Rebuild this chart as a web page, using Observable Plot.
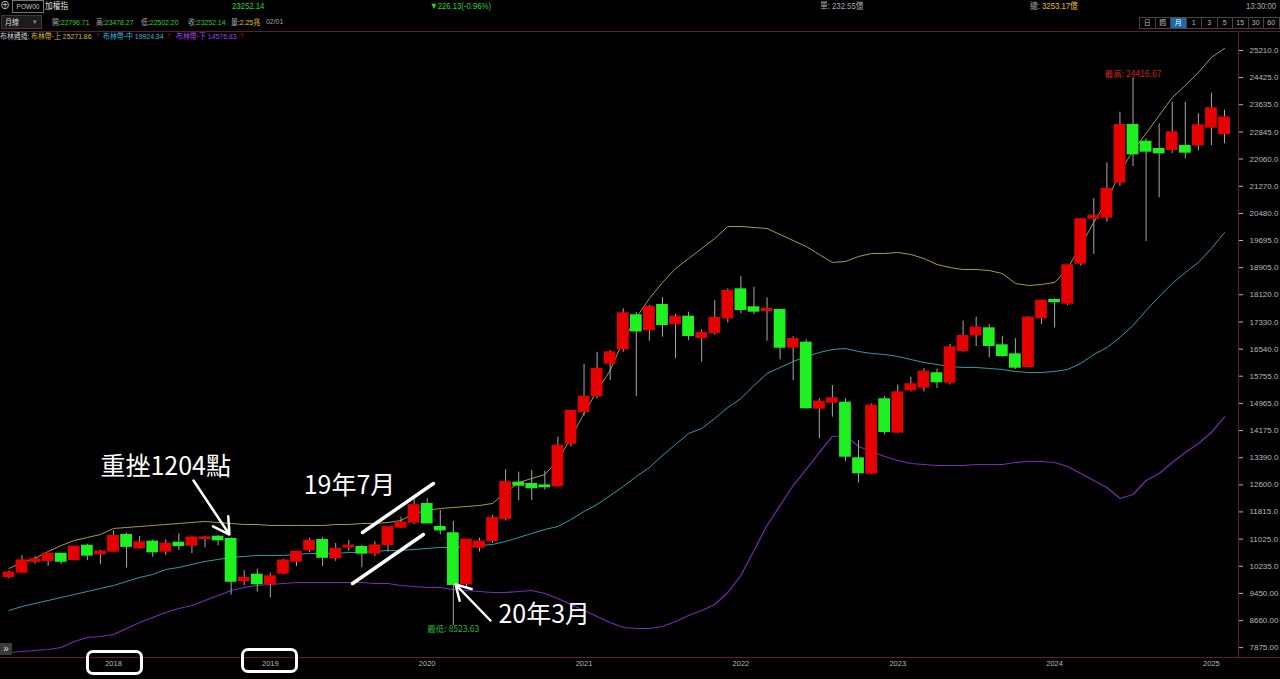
<!DOCTYPE html>
<html><head><meta charset="utf-8">
<script src="https://cdn.jsdelivr.net/npm/d3@7"></script>
<script src="https://cdn.jsdelivr.net/npm/@observablehq/plot@0.6"></script>
<style>
body{margin:0;background:#000;}
#root{position:relative;width:1280px;height:679px;background:#000;overflow:hidden;font-family:"Liberation Sans Narrow","Liberation Sans","Noto Sans CJK TC",sans-serif;font-size:8px;color:#c0c0c0;}
.t{position:absolute;white-space:nowrap;line-height:12px;transform:scaleX(0.86);transform-origin:0 50%;}
.cjk{font-family:"Noto Sans CJK TC",sans-serif;}
.g{color:#2fd02f;} .y{color:#e6c21e;} .gr{color:#a8a8a8;}
.hl{position:absolute;background:#5c1a3e;}
#chart{position:absolute;left:0;top:31px;}
.btns{position:absolute;left:1140px;top:17px;display:flex;}
.btns span{display:block;width:14.5px;height:10px;border:1px solid #444;margin-left:-1px;text-align:center;font-size:7px;line-height:10px;color:#bbb;font-family:"Liberation Sans","Noto Sans CJK TC",sans-serif;}
.btns span.on{background:#1d6aa5;color:#fff;}
.box{position:absolute;box-sizing:border-box;border:3px solid #fff;border-radius:7px;}
.plain{position:absolute;white-space:nowrap;}
</style></head>
<body>
<div id="root">
  <div class="plain" style="left:0;top:0;font-size:10px;line-height:12px;color:#ccc;">⊕</div>
  <div class="plain" style="left:12px;top:0;width:30px;height:11px;line-height:11px;border:1px solid #777;font-size:6.5px;text-align:center;color:#ccc;font-family:'Liberation Sans',sans-serif;">POW00</div>
  <div class="t cjk" style="left:45px;top:0;color:#ddd;font-size:9px;">加權指</div>
  <div class="t g" style="left:232px;top:0;font-size:9px;">23252.14</div>
  <div class="t g" style="left:430px;top:0;font-size:9px;">▼226.13(-0.96%)</div>
  <div class="t gr" style="left:820px;top:0;font-size:9px;"><span class="cjk">單</span>: 232.55<span class="cjk">億</span></div>
  <div class="t" style="left:1030px;top:0;font-size:9px;"><span class="gr cjk">總</span><span class="gr">: </span><span class="y">3253.17</span><span class="y cjk">億</span></div>
  <div class="t gr" style="left:1246px;top:0;font-size:9px;">13:30:00</div>

  <div class="plain" style="left:1px;top:15px;width:41px;height:14px;background:#1c1c1c;border:1px solid #3a3a3a;box-sizing:border-box;"></div>
  <div class="t cjk" style="left:5px;top:16px;color:#ddd;font-size:8px;">月線</div>
  <div class="plain" style="left:33px;top:16px;line-height:12px;color:#888;font-size:7px;">▾</div>
  <div class="t" style="left:52px;top:16px;"><span class="gr cjk">開:</span><span class="g">22796.71</span></div>
  <div class="t" style="left:96px;top:16px;"><span class="gr cjk">高:</span><span class="g">23478.27</span></div>
  <div class="t" style="left:141px;top:16px;"><span class="gr cjk">低:</span><span class="g">22502.20</span></div>
  <div class="t" style="left:188px;top:16px;"><span class="gr cjk">收:</span><span class="g">23252.14</span></div>
  <div class="t" style="left:231px;top:16px;"><span class="gr cjk">量:</span><span class="y">2.25</span><span class="y cjk">兆</span></div>
  <div class="t gr" style="left:266px;top:16px;">02/01</div>
  <div class="btns"><span class="cjk">日</span><span class="cjk">週</span><span class="on cjk">月</span><span>1</span><span>3</span><span>5</span><span>15</span><span>30</span><span>60</span></div>

  <div class="hl" style="left:0;top:31px;width:1280px;height:1px;"></div>
  <div class="hl" style="left:0;top:657px;width:1280px;height:1px;"></div>
  <div class="hl" style="left:1238px;top:31px;width:1px;height:626px;"></div>

  <div id="chart"></div>

  <div class="t" style="left:0;top:30px;font-size:8px;"><span class="cjk" style="color:#ccc;">布林通道:</span></div>
  <div class="t" style="left:31px;top:30px;font-size:8px;color:#d8b838;"><span class="cjk">布林帶-上</span> 25271.86</div>
  <div class="t" style="left:96px;top:30px;font-size:8px;color:#e02020;">↑</div>
  <div class="t" style="left:103px;top:30px;font-size:8px;color:#38b6d8;"><span class="cjk">布林帶-中</span> 19924.34</div>
  <div class="t" style="left:167px;top:30px;font-size:8px;color:#e02020;">↑</div>
  <div class="t" style="left:176px;top:30px;font-size:8px;color:#a642e6;"><span class="cjk">布林帶-下</span> 14576.83</div>
  <div class="t" style="left:240px;top:30px;font-size:8px;color:#e02020;">↑</div>

  <div class="box" style="left:86px;top:650px;width:57px;height:25px;"></div>
  <div class="box" style="left:241px;top:648px;width:57px;height:25px;"></div>
  <div class="plain" style="left:0;top:643px;width:12px;height:12px;line-height:12px;background:#3a3a3a;color:#ddd;font-size:10px;text-align:center;">»</div>
</div>
<script>
// Monthly candles, 2017-05 .. 2025-02 (index 0 = 2017-05)
const open  = [9940,10066,10376,10405,10585,10434,10820,10598,10675,11130,10773,10936,10675,10907,10849,11043,11080,11014,9820,9978,
  9727,10036,10385,10715,10985,10483,10800,10782,10617,10869,11371,11517,12030,11363,11180,9728,10790,10985,11624,12650,
  12611,12570,12573,13810,14730,15194,16132,16550,17508,17102,17807,17276,17468,16878,17024,17450,18263,17740,17660,17662,
  16597,16714,14826,15000,14971,13357,12940,15070,14130,15360,15437,15825,15581,16500,16956,17130,16637,16375,16036,17450,
  17952,17874,19035,20342,20371,21387,23033,22548,22336,22336,22423,22472,22983,22796.71];
const high  = [10100,10550,10520,10590,10620,10800,10880,10700,11270,11200,11100,11000,11000,11180,11090,11100,11130,11064,10110,10152,
  10036,10440,10650,11050,11070,10900,10985,10840,10950,11370,11662,12167,12195,11857,11540,11000,11050,11720,13038,12968,
  13017,12997,13985,14760,16100,16450,16500,17711,17600,17807,18031,17550,17613,17100,17950,18292,18649,18339,18031,17700,
  16900,16811,15100,15485,15100,13888,14950,15165,15500,15726,15970,15960,16675,17352,17468,17256,16907,16841,17480,17960,
  18000,18980,20330,20905,21950,23419,24416.67,22647,23082,23709,23709,23372,23970,23478.27];
const low   = [9880,10020,10300,10231,10290,10400,10400,10283,10650,10190,10730,10500,10550,10690,10600,10770,10830,9400,9670,9485,
  9319,9990,10230,10640,10230,10380,10675,10193,10520,10650,11340,11450,11480,11150,8523.63,9590,10650,10900,11550,12146,
  12146,12450,12540,13700,14600,15100,15630,16450,15166,16771,16888,16260,16791,16162,16950,17300,17560,17546,16771,16231,
  15630,14800,13937,14565,13279,12649,12900,14050,14100,15300,15300,15400,15500,16450,16617,16289,16300,15950,16000,17256,
  17160,17800,18950,19291,20226,21262,21842,19665,20934,22220,22066,22300,22452,22502.20];
const close = [10040,10395,10427,10585,10383,10793,10560,10642,11103,10815,10919,10657,10875,10837,11057,11063,11006,9802,9888,9727,
  9932,10389,10641,10967,10498,10731,10824,10618,10829,11358,11489,11997,11495,11292,9708,10992,10943,11621,12665,12592,
  12516,12546,13723,14733,15146,15949,16434,17566,17068,17755,17256,17468,16936,16994,17430,18214,17691,17642,17693,16597,
  16820,14837,15000,15098,13432,12951,14886,14150,15272,15505,15868,15593,16579,16907,17149,16646,16356,16016,17439,17932,
  17915,18960,20295,20400,21175,23033,22210,22287,22240,22821,22258,23024,23517,23252.14];
// Bollinger band values
const upper = [10172,10347,10463,10666,10840,10985,11072,11159,11334,11363,11392,11421,11450,11479,11508,11537,11508,11479,11450,11450,
  11421,11421,11421,11421,11421,11450,11450,11479,11479,11508,11566,11769,11856,11914,11943,11972,12001,12060,12379,12669,
  12785,12901,13308,13976,14672,15340,15920,16791,17459,18010,18475,18881,19172,19462,19752,20101,20101,20072,20043,19868,
  19694,19520,19288,19056,19085,19230,19317,19317,19346,19288,19172,18998,18910,18852,18852,18823,18736,18446,18388,18417,
  18475,18881,19549,20217,20855,21668,22307,22800,23323,23845,24194,24571,25007,25271.86];
const middle = [8953,9070,9157,9243,9331,9418,9505,9592,9679,9796,9912,9999,10144,10202,10290,10377,10435,10493,10522,10551,
  10551,10551,10580,10609,10609,10609,10638,10638,10667,10696,10696,10725,10754,10783,10783,10812,10840,10869,10957,11073,
  11189,11305,11392,11595,11827,12030,12291,12553,12843,13104,13453,13772,14092,14237,14527,14846,15107,15484,15833,16007,
  16181,16326,16443,16530,16559,16472,16414,16385,16327,16240,16153,16095,16037,16008,16008,15979,15950,15892,15862,15862,
  15892,15950,16124,16385,16588,16878,17227,17662,18068,18446,18765,19056,19462,19924.34];
const lower = [7734,7763,7792,7821,7879,8053,8169,8198,8256,8431,8605,8750,8895,9011,9098,9243,9389,9534,9621,9679,
  9708,9737,9766,9766,9766,9766,9766,9766,9737,9737,9679,9650,9621,9621,9563,9534,9505,9476,9476,9505,
  9534,9447,9301,9127,8953,8779,8605,8460,8431,8431,8489,8634,8808,8953,9127,9476,9969,10695,11420,12001,
  12581,13047,13540,14005,14034,13714,13569,13424,13308,13221,13192,13163,13163,13163,13192,13192,13192,13250,13279,13279,
  13250,13134,12930,12727,12524,12204,12320,12727,12930,13250,13540,13802,14121,14576.83];
const yearTickIndex = [8,20,32,44,56,68,80,92];
const yearLabels = ["2018","2019","2020","2021","2022","2023","2024","2025"];
const priceTicks = [25210,24425,23635,22845,22060,21270,20480,19695,18905,18120,17330,16540,15755,14965,14175,13390,12600,11815,11025,10235,9450,8660,7875];

// annotations (anchored in data space: month index, price)
const notes = [
  {label:"重挫1204點", i:7.0, v:13105},
  {label:"19年7月", i:22.55, v:12581},
  {label:"20年3月", i:37.45, v:8837}
];
const arrows = [
  {i1:14.12, v1:12727, i2:16.87, v2:11159},
  {i1:36.84, v1:8663, i2:34.17, v2:9708}
];
const strokes = [
  {i1:27.05, v1:11218, i2:32.48, v2:12640},
  {i1:26.29, v1:9737, i2:31.71, v2:11159}
];
const extremes = [
  {label:"最低: 8523.63", i:34, v:8523.63, kind:"low"},
  {label:"最高: 24416.67", i:86, v:24416.67, kind:"high"}
];

const candles = open.map((o,i)=>({i, o, h:high[i], l:low[i], c:close[i], up: close[i] >= o}));
const bands = upper.map((u,i)=>({i, u, m:middle[i], lo:lower[i]}));
const bodyY1 = d => Math.min(d.o, d.c), bodyY2 = d => Math.max(d.o, d.c);
const numFont = '"Liberation Sans Narrow","Liberation Sans","Noto Sans CJK TC",sans-serif';
const cjk = '"Noto Sans CJK TC",sans-serif';

const chart = Plot.plot({
  width: 1280, height: 648,
  marginTop: 0, marginRight: 42, marginBottom: 22, marginLeft: 0,
  x: {type: "linear", domain: [-0.645, 94.07]},
  y: {type: "linear", domain: [7588.8, 25761.6]},
  style: {background: "transparent", color: "#b8b8b8", fontFamily: numFont, fontSize: "8px", overflow: "visible"},
  marks: [
    Plot.line(bands, {x: "i", y: "u", stroke: "#ae9a3c", strokeWidth: 1}),
    Plot.line(bands, {x: "i", y: "m", stroke: "#2b9cad", strokeWidth: 1}),
    Plot.line(bands, {x: "i", y: "lo", stroke: "#7a2ab4", strokeWidth: 1.2}),
    Plot.ruleX(candles, {x: "i", y1: "l", y2: "h", stroke: "#a8a8a8", strokeWidth: 1}),
    Plot.rect(candles.filter(d => d.up), {x1: d => d.i - 0.45, x2: d => d.i + 0.45, y1: bodyY1, y2: bodyY2, fill: "#e60000", insetTop: -1, insetBottom: -1}),
    Plot.rect(candles.filter(d => !d.up), {x1: d => d.i - 0.45, x2: d => d.i + 0.45, y1: bodyY1, y2: bodyY2, fill: "#1ff01f", insetTop: -1, insetBottom: -1}),
    Plot.axisY(priceTicks, {anchor: "right", tickSize: 4, tickPadding: 7, fontSize: 8,
      tickFormat: v => v >= 10000 ? v.toFixed(1) : v.toFixed(2)}),
    Plot.axisX(yearTickIndex, {anchor: "bottom", tickSize: 0, tickPadding: 3, fontSize: 7.5,
      tickFormat: d => yearLabels[yearTickIndex.indexOf(d)]}),
    Plot.link(strokes, {x1: "i1", y1: "v1", x2: "i2", y2: "v2", stroke: "#fff", strokeWidth: 3.5, strokeLinecap: "round"}),
    Plot.arrow(arrows, {x1: "i1", y1: "v1", x2: "i2", y2: "v2", stroke: "#fff", strokeWidth: 2.5, headLength: 11}),
    Plot.text(notes, {x: "i", y: "v", text: "label", fill: "#fff", fontSize: 25, textAnchor: "start", fontFamily: cjk}),
    Plot.text(extremes.filter(d => d.kind === "low"), {x: "i", y: "v", text: "label", fill: "#26b826", fontSize: 8.5, lineAnchor: "top", dy: 1, fontFamily: cjk}),
    Plot.text(extremes.filter(d => d.kind === "high"), {x: "i", y: "v", text: "label", fill: "#d42020", fontSize: 8.5, lineAnchor: "bottom", dy: -1, fontFamily: cjk})
  ]
});
document.getElementById("chart").appendChild(chart);
</script>
</body></html>
